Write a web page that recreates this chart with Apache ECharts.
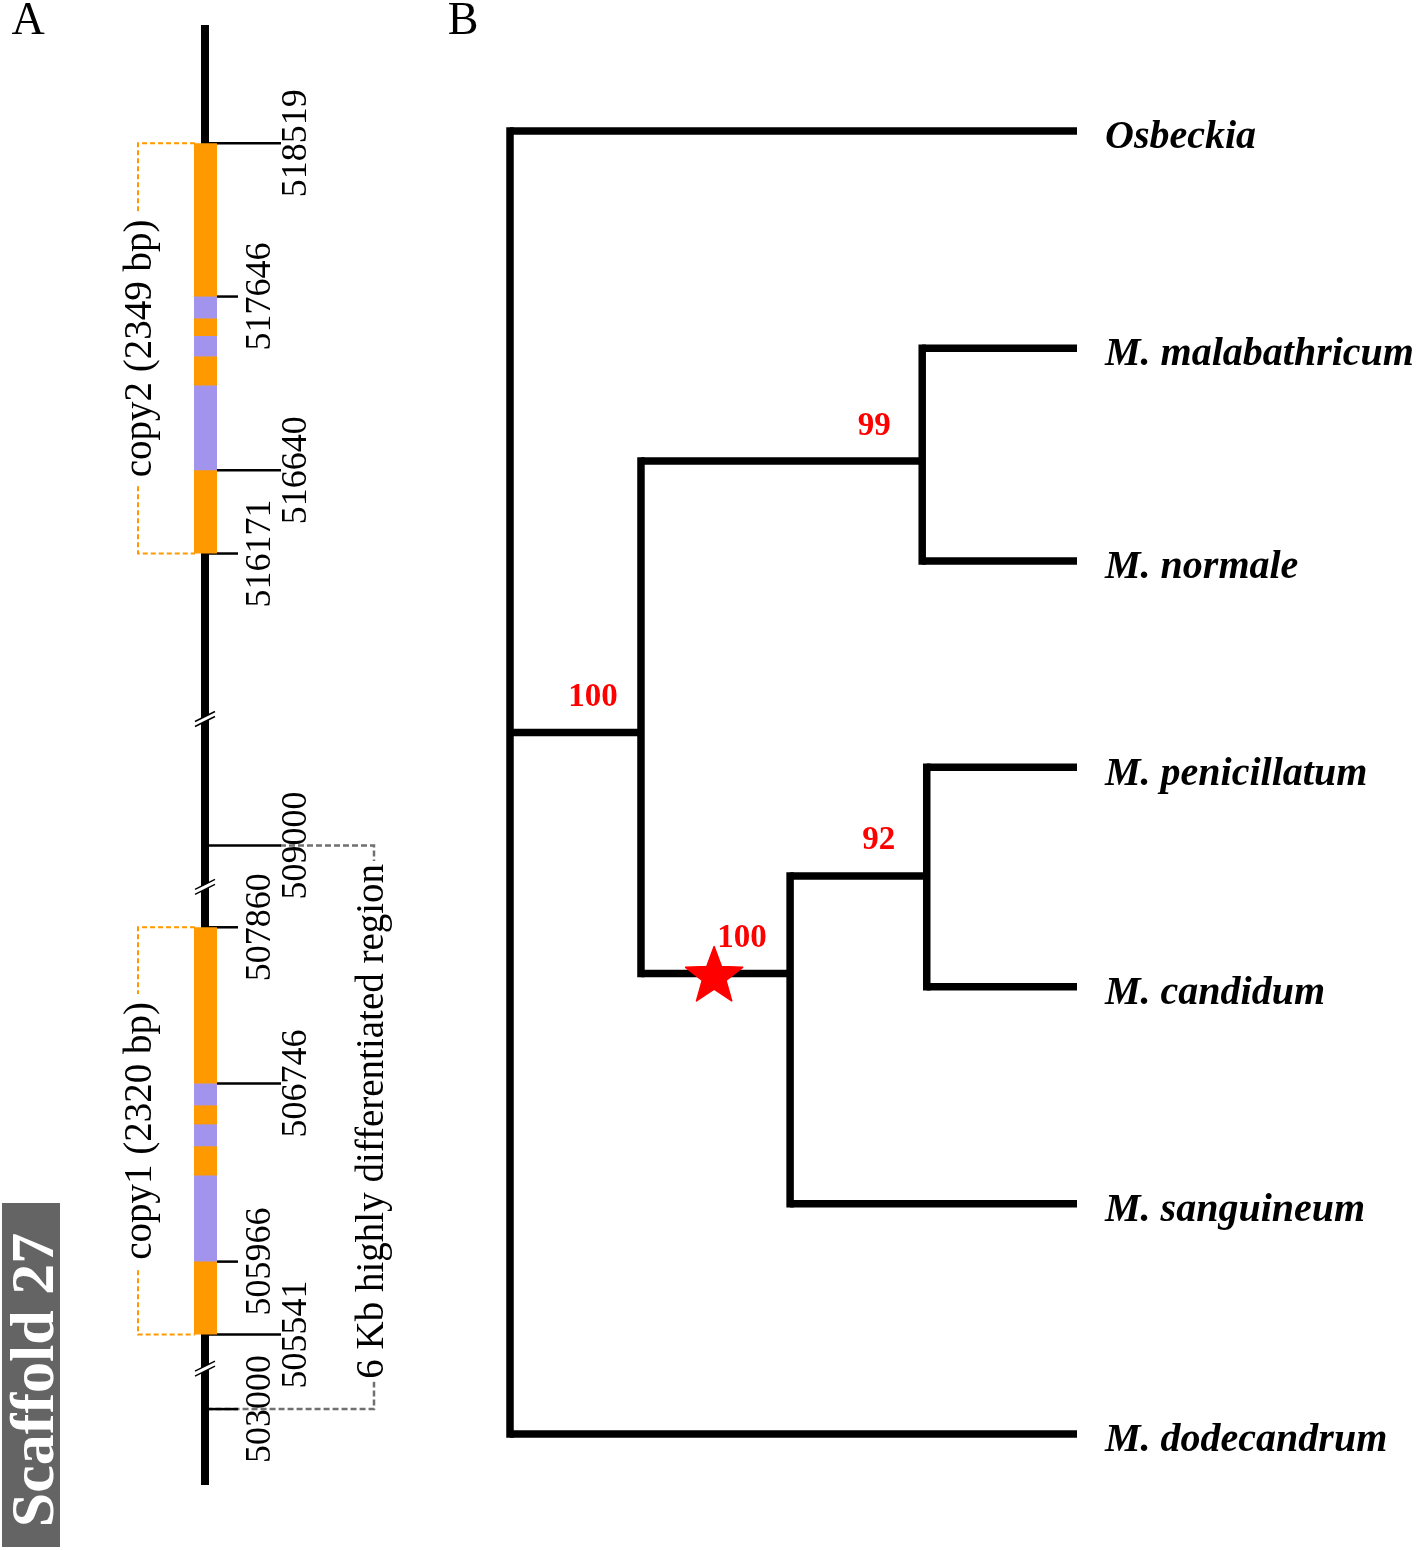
<!DOCTYPE html>
<html><head><meta charset="utf-8">
<script src="https://cdn.jsdelivr.net/npm/echarts@6/dist/echarts.min.js"></script>
<style>html,body{margin:0;padding:0;background:#fff}#c{width:1416px;height:1550px}</style>
</head><body><div id="c"></div>
<script>
// ---------- Panel A data (schematic position along the drawn scaffold: 0 = top, 100 = bottom) ----------
const copyNames   = ['copy2 (2349 bp)', 'copy1 (2320 bp)'];
const copyStart   = [8.1, 61.8];
const copyEnd     = [36.2, 89.7];
const purpleStart = [18.6, 21.3, 24.7, 72.5, 75.3, 78.8];
const purpleEnd   = [20.1, 22.7, 30.5, 74.0, 76.8, 84.7];
const tickLabels  = ['518519','517646','516640','516171','509000','507860','506746','505966','505541','503000'];
const tickPos     = [8.1, 18.6, 30.5, 36.2, 56.2, 61.8, 72.5, 84.7, 89.7, 94.8];
const breakPos    = [47.5, 59.0, 92.0];
const regionLabel = '6 Kb highly differentiated region';
const regionStart = 56.2;
const regionEnd   = 94.8;
const scaffoldName = 'Scaffold 27';

// ---------- Panel B data (tree; depth = branch position, row = vertical position) ----------
const nodeNames  = ['root','nA','nUp','nLow','nPC','Osbeckia','M. malabathricum','M. normale','M. penicillatum','M. candidum','M. sanguineum','M. dodecandrum'];
const nodeParent = [null,'root','nA','nA','nLow','root','nUp','nUp','nPC','nPC','nLow','root'];
const nodeDepth  = [0, 2.31, 7.27, 4.94, 7.35, 10, 10, 10, 10, 10, 10, 10];
const nodeRow    = [3, 2.77, 1.52, 3.88, 3.43, 0, 1.0, 1.98, 2.93, 3.94, 4.94, 6];
const bootNodes  = ['nA','nUp','nPC','nLow'];
const bootValues = [100, 99, 92, 100];
const starNode   = 'nLow';
const starDepth  = 3.6;

// ---------- build ----------
const SERIF = '"Liberation Serif","Times New Roman",serif';
const ORANGE = '#FF9900', PURPLE = '#A294EC';
const idx = n => nodeNames.indexOf(n);
const hEdges = [];   // [childDepth, childRow, parentDepth]
nodeNames.forEach((n, i) => {
  const p = nodeParent[i];
  if (p === null) return;
  hEdges.push([nodeDepth[i], nodeRow[i], nodeDepth[idx(p)]]);
});
const vEdges = [];   // [depth, minChildRow, maxChildRow]
nodeNames.forEach((n, i) => {
  const kids = nodeNames.map((m, j) => j).filter(j => nodeParent[j] === n);
  if (!kids.length) return;
  const rows = kids.map(j => nodeRow[j]);
  vEdges.push([nodeDepth[i], Math.min.apply(null, rows), Math.max.apply(null, rows)]);
});
const leafIdx = nodeNames.map((n, i) => i).filter(i => !nodeParent.includes(nodeNames[i]));

function rotText(x, y, text, opts) {
  return {
    type: 'text', x: x, y: y, rotation: Math.PI / 2,
    style: Object.assign({ text: text, fontFamily: SERIF, fontSize: 36, fill: '#000', align: 'center', verticalAlign: 'middle' }, opts || {})
  };
}

const chart = echarts.init(document.getElementById('c'), null, { renderer: 'canvas' });
const A = { xAxisIndex: 0, yAxisIndex: 0 }, B = { xAxisIndex: 1, yAxisIndex: 1 };
const TREE_W = 7.5;

const series = [
  // region bracket
  Object.assign({ type: 'custom', z: 1, data: [[0, regionStart, regionEnd]],
    renderItem(params, api) {
      const p0 = api.coord([0, api.value(1)]), p1 = api.coord([0, api.value(2)]);
      const x = p0[0];
      return { type: 'group', children: [
        { type: 'polyline', shape: { points: [[x + 75, p0[1]], [x + 169, p0[1]], [x + 169, p1[1]], [x + 4, p1[1]]] },
          style: { stroke: '#707070', lineWidth: 2.5, lineDash: [6, 3], fill: null } },
        rotText(x + 168, (p0[1] + p1[1]) / 2 - 6, regionLabel, { fontSize: 39, backgroundColor: '#fff', padding: [0, 3] })
      ]};
    } }, A),
  // copy brackets
  Object.assign({ type: 'custom', z: 1, data: copyStart.map((s, i) => [0, s, copyEnd[i], i]),
    renderItem(params, api) {
      const p0 = api.coord([0, api.value(1)]), p1 = api.coord([0, api.value(2)]);
      const x = p0[0];
      return { type: 'group', children: [
        { type: 'polyline', shape: { points: [[x - 10, p0[1]], [x - 67, p0[1]], [x - 67, p1[1]], [x - 10, p1[1]]] },
          style: { stroke: ORANGE, lineWidth: 2, lineDash: [5, 3], fill: null } },
        rotText(x - 64, (p0[1] + p1[1]) / 2, copyNames[api.value(3)], { fontSize: 39, backgroundColor: '#fff', padding: [0, 8] })
      ]};
    } }, A),
  // scaffold track
  Object.assign({ type: 'custom', z: 2, data: [[0, 0, 100]],
    renderItem(params, api) {
      const p0 = api.coord([0, api.value(1)]), p1 = api.coord([0, api.value(2)]);
      return { type: 'line', shape: { x1: p0[0], y1: p0[1], x2: p1[0], y2: p1[1] }, style: { stroke: '#000', lineWidth: 8 } };
    } }, A),
  // ticks + position labels
  Object.assign({ type: 'custom', z: 3, data: tickPos.map((p, i) => [0, p, i]),
    renderItem(params, api) {
      const pt = api.coord([0, api.value(1)]);
      const i = api.value(2), long = i % 2 === 0;
      return { type: 'group', children: [
        { type: 'line', shape: { x1: pt[0] + 3, y1: pt[1], x2: pt[0] + (long ? 76 : 33), y2: pt[1] }, style: { stroke: '#000', lineWidth: 2.5 } },
        rotText(pt[0] + (long ? 92 : 56), pt[1], tickLabels[i])
      ]};
    } }, A),
  // copy blocks
  Object.assign({ type: 'custom', z: 4, data: copyStart.map((s, i) => [0, s, copyEnd[i]]),
    renderItem(params, api) {
      const p0 = api.coord([0, api.value(1)]), p1 = api.coord([0, api.value(2)]);
      return { type: 'rect', shape: { x: p0[0] - 11, y: p0[1], width: 23, height: p1[1] - p0[1] }, style: { fill: ORANGE } };
    } }, A),
  // purple segments
  Object.assign({ type: 'custom', z: 5, data: purpleStart.map((s, i) => [0, s, purpleEnd[i]]),
    renderItem(params, api) {
      const p0 = api.coord([0, api.value(1)]), p1 = api.coord([0, api.value(2)]);
      return { type: 'rect', shape: { x: p0[0] - 11, y: p0[1], width: 23, height: p1[1] - p0[1] }, style: { fill: PURPLE } };
    } }, A),
  // break marks
  Object.assign({ type: 'custom', z: 6, data: breakPos.map(p => [0, p]),
    renderItem(params, api) {
      const pt = api.coord([0, api.value(1)]);
      const x = pt[0], y = pt[1];
      return { type: 'group', children: [
        { type: 'polygon', shape: { points: [[x - 10, y + 3], [x + 10, y - 7], [x + 10, y - 2], [x - 10, y + 8]] }, style: { fill: '#fff' } },
        { type: 'line', shape: { x1: x - 10, y1: y + 3, x2: x + 10, y2: y - 7 }, style: { stroke: '#000', lineWidth: 1.5 } },
        { type: 'line', shape: { x1: x - 10, y1: y + 8, x2: x + 10, y2: y - 2 }, style: { stroke: '#000', lineWidth: 1.5 } }
      ]};
    } }, A),
  // tree: vertical connectors
  Object.assign({ type: 'custom', z: 2, data: vEdges,
    renderItem(params, api) {
      const a = api.coord([api.value(0), api.value(1)]), b = api.coord([api.value(0), api.value(2)]);
      return { type: 'line', shape: { x1: a[0], y1: a[1], x2: b[0], y2: b[1] },
        style: { stroke: '#000', lineWidth: TREE_W, lineCap: 'square' } };
    } }, B),
  // tree: horizontal branches
  Object.assign({ type: 'custom', z: 2, data: hEdges,
    renderItem(params, api) {
      const c = api.coord([api.value(0), api.value(1)]), p = api.coord([api.value(2), api.value(1)]);
      return { type: 'line', shape: { x1: p[0], y1: p[1], x2: c[0], y2: c[1] },
        style: { stroke: '#000', lineWidth: TREE_W, lineCap: 'butt' } };
    } }, B),
  // leaf labels
  Object.assign({ type: 'custom', z: 3, data: leafIdx.map(i => [nodeDepth[i], nodeRow[i], i]),
    renderItem(params, api) {
      const c = api.coord([api.value(0), api.value(1)]);
      return { type: 'text', x: c[0] + 28, y: c[1] + 7,
        style: { text: nodeNames[api.value(2)], fontFamily: SERIF, fontSize: 40, fontWeight: 'bold', fontStyle: 'italic', fill: '#000', align: 'left', verticalAlign: 'middle' } };
    } }, B),
  // bootstrap values
  Object.assign({ type: 'custom', z: 3, data: bootNodes.map((n, k) => [nodeDepth[idx(n)], nodeRow[idx(n)], k]),
    renderItem(params, api) {
      const c = api.coord([api.value(0), api.value(1)]);
      return { type: 'text', x: c[0] - 48, y: c[1] - 35,
        style: { text: String(bootValues[api.value(2)]), fontFamily: SERIF, fontSize: 33, fontWeight: 'bold', fill: '#FF0000', align: 'center', verticalAlign: 'middle' } };
    } }, B),
  // star on the branch
  Object.assign({ type: 'custom', z: 4, data: [[starDepth, nodeRow[idx(starNode)]]],
    renderItem(params, api) {
      const c = api.coord([api.value(0), api.value(1)]);
      const R = 30, r = 12.5, pts = [];
      for (let k = 0; k < 10; k++) {
        const rad = k % 2 === 0 ? R : r;
        const ang = -Math.PI / 2 + k * Math.PI / 5;
        pts.push([c[0] + rad * Math.cos(ang), c[1] + 3 + rad * Math.sin(ang)]);
      }
      return { type: 'polygon', shape: { points: pts }, style: { fill: '#FF0000', stroke: '#FF0000', lineWidth: 1.5, lineJoin: 'round' } };
    } }, B)
];

chart.setOption({
  animation: false,
  backgroundColor: '#fff',
  grid: [
    { left: 0, top: 25, width: 410, height: 1460 },
    { left: 510, top: 131, width: 567, height: 1303 }
  ],
  xAxis: [
    { gridIndex: 0, type: 'value', min: -1, max: 1, show: false },
    { gridIndex: 1, type: 'value', min: 0, max: 10, show: false }
  ],
  yAxis: [
    { gridIndex: 0, type: 'value', min: 0, max: 100, inverse: true, show: false },
    { gridIndex: 1, type: 'value', min: 0, max: 6, inverse: true, show: false }
  ],
  graphic: [
    { type: 'text', x: 28, y: 22, style: { text: 'A', fontFamily: SERIF, fontSize: 46, fill: '#000', align: 'center', verticalAlign: 'middle' } },
    { type: 'text', x: 463, y: 22, style: { text: 'B', fontFamily: SERIF, fontSize: 46, fill: '#000', align: 'center', verticalAlign: 'middle' } },
    { type: 'rect', shape: { x: 2, y: 1203, width: 58, height: 344 }, style: { fill: '#646464' } },
    { type: 'text', x: 37, y: 1380, rotation: Math.PI / 2,
      style: { text: scaffoldName, fontFamily: SERIF, fontSize: 62, fontWeight: 'bold', fill: '#fff', align: 'center', verticalAlign: 'middle' } }
  ],
  series: series
});
</script>
</body></html>
